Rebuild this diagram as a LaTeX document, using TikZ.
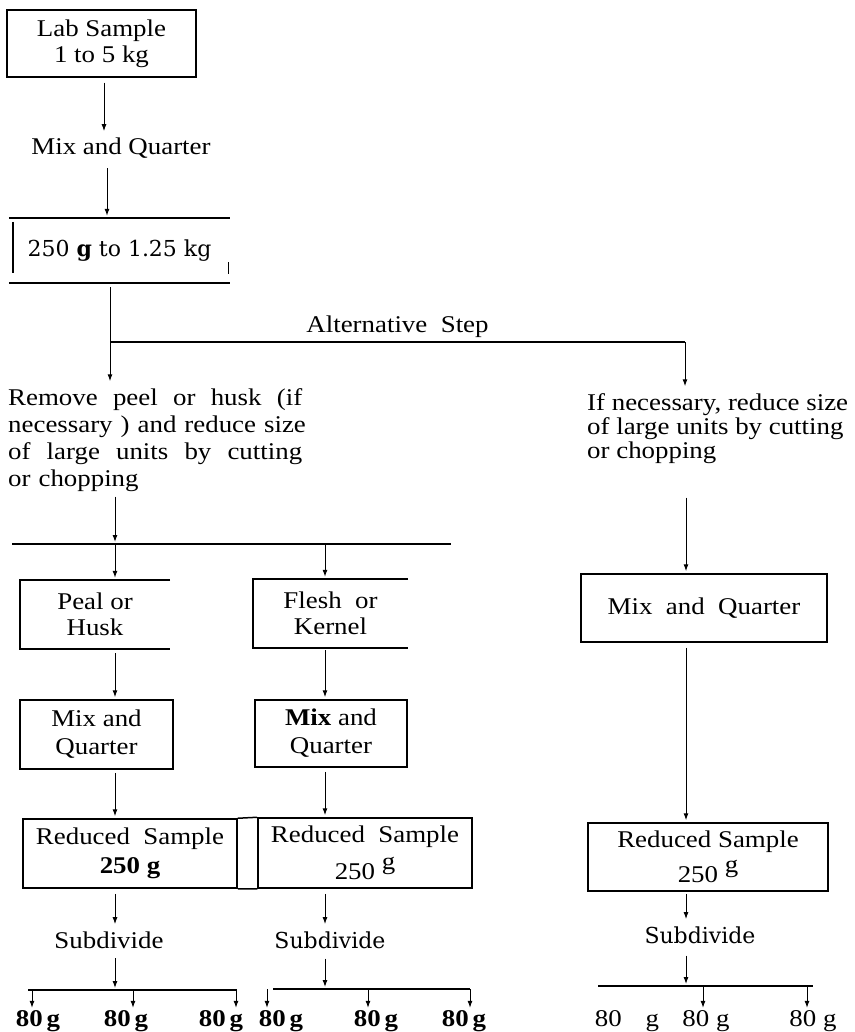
\documentclass[tikz,border=0pt]{standalone}
\usepackage{fontspec}
\setmainfont{Liberation Serif}[FakeStretch=1.12]
\newfontfamily\altfont{DejaVu Serif}
\usetikzlibrary{arrows.meta}

\begin{document}
\begin{tikzpicture}[x=1pt, y=-1pt]
    % Styles
    \tikzset{
        flow/.style={-{Latex[length=7pt,width=5pt]}, line width=1pt, shorten >=2pt},
        totext/.style={flow, shorten >=7pt},
        rule/.style={line width=1.5pt},
        txt/.style={inner sep=0pt, align=center, font=\fontsize{24}{27}\selectfont},
        frame/.style={txt, draw, line width=1.5pt},
        plain/.style={txt, anchor=base},
        alt/.style={inner sep=0pt, anchor=base, font=\altfont\fontsize{22}{26}\selectfont},
        weight/.style={plain, font=\fontsize{24}{27}\selectfont\bfseries}
    }

    \useasboundingbox (0,0) rectangle (854,1032);

    % --- Main column ---
    \node[frame, minimum width=189pt, minimum height=67pt, font=\fontsize{24}{26}\selectfont] (lab) at (101.5,43.5) {Lab Sample\\1 to 5 kg};
    \node[plain] (mixA) at (121,155) {Mix and Quarter};
    \node[txt, minimum width=221pt, minimum height=65pt, font=\altfont\fontsize{22}{26}\selectfont] (range) at (119.5,250.5) {250 \textbf{g} to 1.25 kg};
    \draw[rule] (range.north west) -- (range.north east)
                (range.south west) -- (range.south east)
                ([xshift=4pt,yshift=-4pt]range.north west) -- ([xshift=4pt,yshift=10pt]range.south west);
    \draw[line width=1pt] ([xshift=-2pt,yshift=-11.5pt]range.east) -- ++(0,12);

    \draw[totext] ([xshift=2.5pt]lab.south) ++(0,5) -- ([xshift=2.5pt]lab.south |- mixA.north);
    \draw[flow] ([xshift=5.5pt]lab.south |- mixA.south) ++(0,9) -- ([xshift=5.5pt]lab.south |- range.north);

    % --- Alternative step ---
    \coordinate (fork) at (110,342);
    \coordinate (forkR) at (685,342);
    \node[txt, anchor=west, text width=296pt, align=left, font=\fontsize{24}{27}\selectfont] (remove) at (8,440)
        {\makebox[294pt][l]{Remove \hfill peel \hfill or \hfill husk \hfill (if}\\
         \makebox[294pt][l]{necessary ) \hfill and \hfill reduce \hfill size}\\
         \makebox[294pt][l]{of \hfill large \hfill units \hfill by \hfill cutting}\\
         or chopping};
    \node[txt, anchor=west, align=left, font=\fontsize{24}{24}\selectfont] (ifnec) at (587,428.5)
        {If necessary, reduce size\\of large units by cutting\\or chopping};

    \draw[totext] (fork |- range.south) ++(0,4) -- (fork |- remove.north);
    \draw[rule] (fork) -- node[txt, above=4pt] {Alternative\ \ Step} (forkR);
    \draw[totext] (forkR) -- (forkR |- ifnec.north);

    % --- Left route ---
    \coordinate (colA) at (115,0);
    \coordinate (colB) at (325,0);
    \coordinate (colC) at (686,0);
    \coordinate (barL) at (12,544);
    \coordinate (barR) at (451,544);
    \draw[rule] (barL) -- (barR);
    \draw[flow] (colA |- remove.south) ++(0,5) -- (colA |- barL);

    \node[txt, minimum width=150pt, minimum height=69pt, font=\fontsize{24}{26}\selectfont] (peal) at (95,614.5) {Peal or\\Husk};
    \node[txt, minimum width=155pt, minimum height=69pt, font=\fontsize{24}{26}\selectfont] (flesh) at (330.5,613.5) {Flesh\ \ or\\Kernel};
    \draw[rule] (peal.north east) -- (peal.north west) -- (peal.south west) -- (peal.south east);
    \draw[rule] (flesh.north east) -- (flesh.north west) -- (flesh.south west) -- (flesh.south east);
    \draw[flow] (colA |- barL) -- (colA |- peal.north);
    \draw[flow] (colB |- barR) -- (colB |- flesh.north);

    \node[frame, minimum width=153pt, minimum height=69pt, font=\fontsize{24}{28}\selectfont] (mixL) at (96.5,734.5) {Mix and\\Quarter};
    \node[frame, minimum width=152pt, minimum height=67pt, font=\fontsize{24}{28}\selectfont] (mixM) at (331,733.5) {{\bfseries Mix} and\\Quarter};
    \draw[flow] (colA |- peal.south) ++(0,4) -- (colA |- mixL.north);
    \draw[flow] (colB |- flesh.south) ++(0,2) -- (colB |- mixM.north);

    \node[frame, minimum width=214pt, minimum height=69pt, font=\fontsize{24}{29}\selectfont] (redL) at (130,853.5) {Reduced\ \ Sample\\{\bfseries 250 g}};
    \node[frame, minimum width=214pt, minimum height=70pt] (redM) at (365,853) {Reduced\ \ Sample\\[9pt]250 \raisebox{10pt}{g}};
    \draw[rule] (redL.north east) -- (redM.north west)
                (redL.south east) -- (redM.south west);
    \draw[flow] (colA |- mixL.south) ++(0,3) -- (colA |- redL.north);
    \draw[flow] (colB |- mixM.south) ++(0,4) -- (colB |- redM.north);

    \node[plain] (subL) at (109,948) {Subdivide};
    \node[alt] (subM) at (330,948) {Subdivide};
    \draw[totext] (colA |- redL.south) ++(0,5) -- (colA |- subL.north);
    \draw[totext] (colB |- redM.south) ++(0,5) -- (colB |- subM.north);

    % --- Subdivided portions ---
    \coordinate (lowL) at (28,990);
    \coordinate (lowLe) at (237,990);
    \coordinate (lowM) at (273,989);
    \coordinate (lowMe) at (470,989);
    \draw[rule] (lowL) -- (lowLe);
    \draw[rule] (lowM) -- (lowMe);
    \draw[flow] (colA |- subL.south) ++(0,10) -- (colA |- lowL);
    \draw[flow] (colB |- subM.south) ++(0,10) -- (colB |- lowM);

    \foreach \ax/\lx [count=\i] in {32/38, 133/126, 236/221} {
        \coordinate (tipL\i) at (\ax,990);
        \node[weight] (gL\i) at (\lx,1026) {80\,g};
        \draw[flow] (tipL\i) -- (tipL\i |- gL\i.north);
    }
    \foreach \ax/\lx [count=\i] in {267/281, 368/376, 470/464} {
        \coordinate (tipM\i) at (\ax,989);
        \node[weight] (gM\i) at (\lx,1026) {80\,g};
        \draw[flow] (tipM\i) -- (tipM\i |- gM\i.north);
    }

    % --- Right route ---
    \node[frame, minimum width=246pt, minimum height=68pt] (mixR) at (704,608) {Mix~ and~ Quarter};
    \draw[flow] (colC |- ifnec.south) ++(0,34) -- (colC |- mixR.north);
    \node[frame, minimum width=240pt, minimum height=68pt] (redR) at (708,857) {Reduced Sample\\[7pt]250 \raisebox{10pt}{g}};
    \draw[flow] (colC |- mixR.south) ++(0,5) -- (colC |- redR.north);
    \node[alt] (subR) at (700,943) {Subdivide};
    \draw[totext] (colC |- redR.south) ++(0,2) -- (colC |- subR.north);
    \coordinate (lowR) at (598,986);
    \coordinate (lowRe) at (813,986);
    \draw[rule] (lowR) -- (lowRe);
    \draw[flow] (colC |- subR.south) ++(0,12) -- (colC |- lowR);
    \node[plain] (gR1) at (627,1026) {80\quad g};
    \node[plain] (gR2) at (706,1026) {80 g};
    \node[plain] (gR3) at (813,1026) {80 g};
    \coordinate (tipR2) at (703,986);
    \coordinate (tipR3) at (807,986);
    \draw[flow] (tipR2) -- (tipR2 |- gR2.north);
    \draw[flow] (tipR3) -- (tipR3 |- gR3.north);

\end{tikzpicture}
\end{document}
